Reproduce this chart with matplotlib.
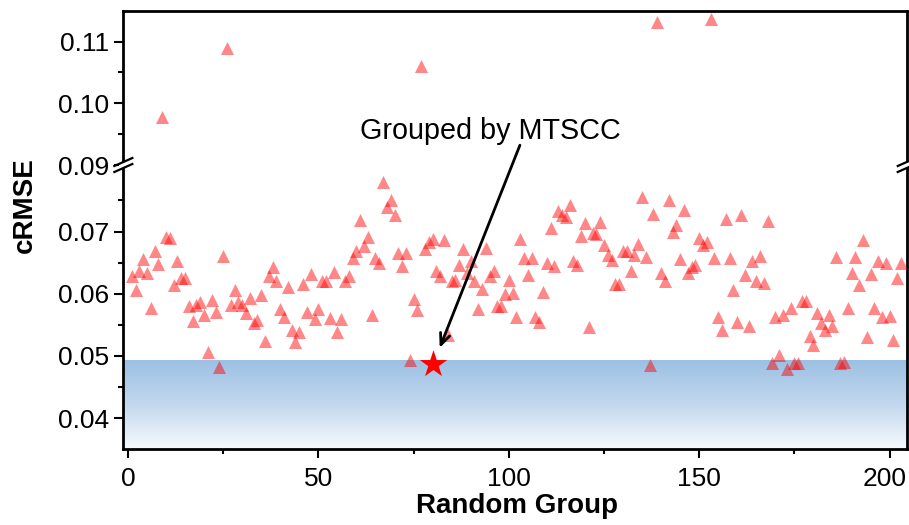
import numpy as np
import matplotlib
matplotlib.use("Agg")
import matplotlib.pyplot as plt
from matplotlib.lines import Line2D
from matplotlib.patches import Rectangle
from matplotlib.colors import LinearSegmentedColormap
from matplotlib.ticker import FormatStrFormatter
from matplotlib.transforms import ScaledTranslation

plt.rcParams['font.family'] = ['Liberation Sans', 'DejaVu Sans']

# cRMSE of each random group (group index 1..203)
crmse = [
    0.0629, 0.0606, 0.0636, 0.0656, 0.0633, 0.0577, 0.0668, 0.0648, 0.0978, 0.0691,
    0.0690, 0.0614, 0.0653, 0.0625, 0.0626, 0.0580, 0.0557, 0.0582, 0.0587, 0.0566,
    0.0506, 0.0590, 0.0571, 0.0483, 0.0660, 0.1090, 0.0582, 0.0606, 0.0587, 0.0582,
    0.0569, 0.0593, 0.0553, 0.0558, 0.0598, 0.0524, 0.0628, 0.0643, 0.0620, 0.0576,
    0.0562, 0.0611, 0.0542, 0.0522, 0.0538, 0.0615, 0.0570, 0.0631, 0.0560, 0.0575,
    0.0621, 0.0620, 0.0561, 0.0635, 0.0538, 0.0560, 0.0621, 0.0629, 0.0657, 0.0668,
    0.0718, 0.0676, 0.0691, 0.0566, 0.0658, 0.0650, 0.0780, 0.0740, 0.0750, 0.0727,
    0.0665, 0.0644, 0.0665, 0.0493, 0.0591, 0.0574, 0.1061, 0.0672, 0.0684, 0.0688,
    0.0636, 0.0628, 0.0686, 0.0534, 0.0620, 0.0622, 0.0646, 0.0672, 0.0633, 0.0652,
    0.0620, 0.0576, 0.0607, 0.0673, 0.0628, 0.0637, 0.0580, 0.0580, 0.0600, 0.0622,
    0.0602, 0.0562, 0.0688, 0.0658, 0.0630, 0.0658, 0.0563, 0.0555, 0.0603, 0.0649,
    0.0705, 0.0645, 0.0733, 0.0727, 0.0723, 0.0743, 0.0652, 0.0647, 0.0693, 0.0713,
    0.0546, 0.0697, 0.0696, 0.0716, 0.0679, 0.0662, 0.0655, 0.0616, 0.0616, 0.0668,
    0.0669, 0.0637, 0.0662, 0.0680, 0.0756, 0.0659, 0.0486, 0.0728, 0.1131, 0.0634,
    0.0621, 0.0750, 0.0700, 0.0711, 0.0656, 0.0735, 0.0634, 0.0643, 0.0646, 0.0689,
    0.0679, 0.0684, 0.1136, 0.0657, 0.0563, 0.0542, 0.0721, 0.0657, 0.0606, 0.0555,
    0.0726, 0.0630, 0.0549, 0.0653, 0.0621, 0.0660, 0.0618, 0.0717, 0.0488, 0.0562,
    0.0502, 0.0566, 0.0479, 0.0577, 0.0488, 0.0489, 0.0589, 0.0589, 0.0532, 0.0518,
    0.0569, 0.0553, 0.0542, 0.0566, 0.0548, 0.0659, 0.0489, 0.0490, 0.0577, 0.0633,
    0.0659, 0.0614, 0.0687, 0.0530, 0.0631, 0.0577, 0.0652, 0.0562, 0.0650, 0.0564,
    0.0526, 0.0625, 0.0649,
]
groups = np.arange(1, len(crmse) + 1)

# MTSCC grouping result
mtscc_x = 80
mtscc_y = 0.0487
shade_top = 0.0492

fig = plt.figure(figsize=(9.09, 5.25), dpi=100)
left, width = 0.1357, 0.8618
y_bot, y_mid, y_top = 0.1442, 0.6857, 0.9796
ax_top = fig.add_axes([left, y_mid, width, y_top - y_mid])
ax_bot = fig.add_axes([left, y_bot, width, y_mid - y_bot])
ax_bot.set_zorder(2)

xlim = (-1.2, 204.5)

for ax in (ax_top, ax_bot):
    ax.scatter(groups, crmse, marker='^', s=88, color='red', alpha=0.47,
               linewidths=0, zorder=3)
    ax.set_xlim(*xlim)
    for sp in ax.spines.values():
        sp.set_linewidth(2)
    ax.tick_params(axis='both', which='major', direction='out', length=6.5,
                   width=1.5, labelsize=19, pad=4)
    ax.tick_params(axis='both', which='minor', direction='out', length=3.5,
                   width=1.5)
    ax.tick_params(right=False, top=False, which='both')
    ax.yaxis.set_major_formatter(FormatStrFormatter('%.2f'))

ax_top.set_ylim(0.09, 0.115)
ax_top.set_yticks([0.09, 0.10, 0.11])
ax_top.set_yticks([0.095, 0.105], minor=True)
ax_top.spines['bottom'].set_visible(False)
ax_top.tick_params(axis='x', which='both', bottom=False, labelbottom=False)

ax_bot.set_ylim(0.035, 0.0807)
ax_bot.set_yticks([0.04, 0.05, 0.06, 0.07])
ax_bot.set_yticks([0.045, 0.055, 0.065, 0.075], minor=True)
ax_bot.spines['top'].set_visible(False)
ax_bot.set_xticks([0, 50, 100, 150, 200])
ax_bot.set_xticks([25, 75, 125, 175], minor=True)
ax_bot.tick_params(axis='x', which='major', pad=6)

# last x label nudged left to stay inside the figure
last = ax_bot.get_xticklabels()[-1]
last.set_transform(last.get_transform() + ScaledTranslation(-0.05, 0, fig.dpi_scale_trans))

# blue gradient band below the MTSCC value
grad = np.linspace(0, 1, 256).reshape(-1, 1)
cmap = LinearSegmentedColormap.from_list('band', ['#f7fafd', '#c3d8ee', '#9cc0e3'])
ax_bot.imshow(grad, extent=[xlim[0], xlim[1], 0.035, shade_top], origin='lower',
              aspect='auto', cmap=cmap, zorder=0)
ax_bot.set_xlim(*xlim)
ax_bot.set_ylim(0.035, 0.0807)

ax_bot.scatter([mtscc_x], [mtscc_y], marker='*', s=430, color='red',
               linewidths=0, zorder=5)
ax_bot.annotate('', xy=(81.6, 0.0509), xytext=(103.2, 0.0843),
                arrowprops=dict(arrowstyle='->,head_length=0.8,head_width=0.35',
                                color='black', lw=2),
                annotation_clip=False, zorder=6)
ax_top.text(95.3, 0.0955, 'Grouped by MTSCC', ha='center', va='center',
            fontsize=20.7)

fig.text(0.0275, 0.61, 'cRMSE', rotation=90, ha='center', va='center',
         fontsize=20, fontweight='bold')
fig.text(0.569, 0.037, 'Random Group', ha='center', va='center',
         fontsize=20, fontweight='bold')

# axis break marks on both side spines
px, py = 1 / 909, 1 / 525
for x0 in (left, left + width):
    fig.add_artist(Rectangle((x0 - 4 * px, y_mid - 3 * py), 8 * px, 6 * py,
                             transform=fig.transFigure, facecolor='white',
                             edgecolor='none', zorder=10))
    for s in (-1, 1):
        yc = y_mid + s * 3 * py
        fig.add_artist(Line2D([x0 - 9 * px, x0 + 9 * px],
                              [yc - 4 * py, yc + 4 * py],
                              transform=fig.transFigure, color='black',
                              lw=1.6, zorder=11))

fig.savefig('out.png', dpi=100)
